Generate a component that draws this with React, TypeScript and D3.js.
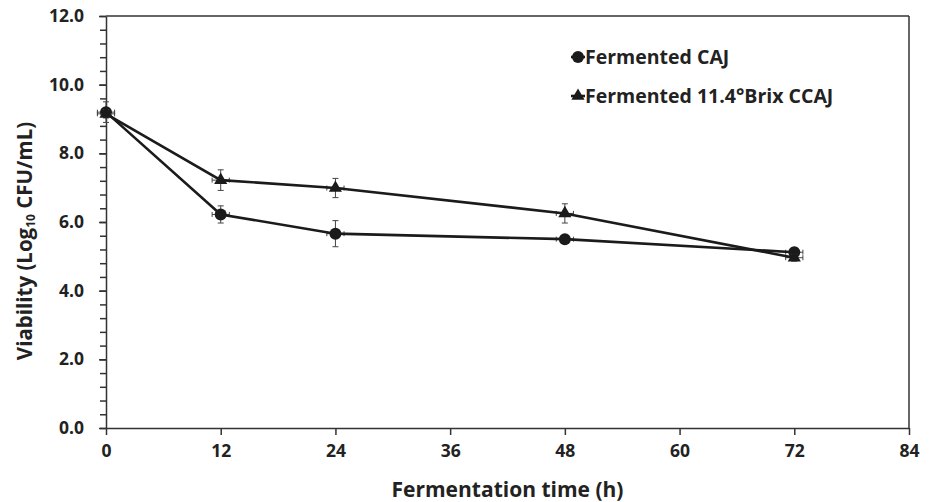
import { useRef, useEffect } from "react";
import {
  select,
  scaleLinear,
  axisLeft,
  axisBottom,
  line,
  symbol,
  symbolTriangle,
  range,
  format,
} from "d3";

// fermentation time (h)
const hours = [0, 12, 24, 48, 72];
const hourErrors = [0.9, 0.9, 0.9, 0.9, 0.9];

// Fermented CAJ
const cajValues = [9.2, 6.22, 5.66, 5.5, 5.12];
const cajErrors = [0.3, 0.25, 0.38, 0.08, 0.12];

// Fermented 11.4°Brix CCAJ
const ccajValues = [9.15, 7.22, 6.99, 6.25, 4.96];
const ccajErrors = [0.12, 0.3, 0.28, 0.28, 0.1];

const xTicks = [0, 12, 24, 36, 48, 60, 72, 84];
const yTicks = [0, 2, 4, 6, 8, 10, 12];

const width = 935;
const height = 502;
const font = "'Open Sans', Lato, sans-serif";
const ink = "#1b1b1b";

function App() {
  const svgRef = useRef(null);

  useEffect(() => {
    const svg = select(svgRef.current);
    svg.selectAll("*").remove();

    const xScale = scaleLinear().domain([0, 84]).range([106, 909]);
    const yScale = scaleLinear().domain([0, 12]).range([428, 16]);

    const chart = svg.append("g");

    // frame top + right
    chart
      .append("line")
      .attr("x1", xScale(0))
      .attr("x2", xScale(84))
      .attr("y1", yScale(12))
      .attr("y2", yScale(12))
      .attr("stroke", "#333")
      .attr("stroke-width", 1.5);
    chart
      .append("line")
      .attr("x1", xScale(84))
      .attr("x2", xScale(84))
      .attr("y1", yScale(12))
      .attr("y2", yScale(0))
      .attr("stroke", "#333")
      .attr("stroke-width", 1.5);

    // minor y ticks
    chart
      .append("g")
      .attr("transform", `translate(${xScale(0)},0)`)
      .call(
        axisLeft(yScale)
          .tickValues(range(0, 12.01, 0.4))
          .tickSize(6)
          .tickFormat(() => "")
      )
      .call((g) => g.select(".domain").remove())
      .call((g) => g.selectAll("line").attr("stroke", "#333").attr("stroke-width", 1.5));

    const yAxis = chart
      .append("g")
      .attr("transform", `translate(${xScale(0)},0)`)
      .call(
        axisLeft(yScale)
          .tickValues(yTicks)
          .tickSize(7)
          .tickSizeOuter(0)
          .tickPadding(15)
          .tickFormat(format(".1f"))
      );

    const xAxis = chart
      .append("g")
      .attr("transform", `translate(0,${yScale(0)})`)
      .call(
        axisBottom(xScale)
          .tickValues(xTicks)
          .tickSize(7)
          .tickSizeOuter(0)
          .tickPadding(10)
      );

    [xAxis, yAxis].forEach((ax) => {
      ax.select(".domain").attr("stroke", "#333").attr("stroke-width", 1.5);
      ax.selectAll("line").attr("stroke", "#333").attr("stroke-width", 1.5);
      ax.selectAll("text")
        .attr("font-family", font)
        .attr("font-weight", "bold")
        .attr("font-size", 17.5)
        .attr("fill", "#222");
    });

    // axis titles
    chart
      .append("text")
      .attr("x", (xScale(0) + xScale(84)) / 2)
      .attr("y", 497)
      .attr("text-anchor", "middle")
      .attr("font-family", font)
      .attr("font-weight", "bold")
      .attr("font-size", 21)
      .attr("fill", "#222")
      .text("Fermentation time (h)");

    const yTitle = chart
      .append("text")
      .attr("transform", "translate(32,241) rotate(-90)")
      .attr("text-anchor", "middle")
      .attr("font-family", font)
      .attr("font-weight", "bold")
      .attr("font-size", 20.5)
      .attr("fill", "#222");
    yTitle.append("tspan").text("Viability (Log");
    yTitle.append("tspan").attr("font-size", 12).attr("dy", 3).text("10");
    yTitle.append("tspan").attr("dy", -3).text(" CFU/mL)");

    const series = [
      { name: "Fermented CAJ", values: cajValues, errors: cajErrors, shape: "circle" },
      { name: "Fermented 11.4°Brix CCAJ", values: ccajValues, errors: ccajErrors, shape: "triangle" },
    ];

    const tri = symbol().type(symbolTriangle).size(75);

    const drawMarker = (g, shape, x, y) => {
      if (shape === "circle") {
        g.append("circle").attr("cx", x).attr("cy", y).attr("r", 6).attr("fill", ink);
      } else {
        g.append("path")
          .attr("d", tri())
          .attr("transform", `translate(${x},${y})`)
          .attr("fill", ink);
      }
    };

    series.forEach((s) => {
      const pts = hours.map((h, i) => ({ h, v: s.values[i], e: s.errors[i], xe: hourErrors[i] }));
      const g = chart.append("g");

      // error bars
      pts.forEach((p) => {
        const cx = xScale(p.h);
        const cy = yScale(p.v);
        const eb = g.append("g").attr("stroke", "#444").attr("stroke-width", 1);
        eb.append("line").attr("x1", cx).attr("x2", cx).attr("y1", yScale(p.v - p.e)).attr("y2", yScale(p.v + p.e));
        eb.append("line").attr("x1", cx - 3).attr("x2", cx + 3).attr("y1", yScale(p.v - p.e)).attr("y2", yScale(p.v - p.e));
        eb.append("line").attr("x1", cx - 3).attr("x2", cx + 3).attr("y1", yScale(p.v + p.e)).attr("y2", yScale(p.v + p.e));
        eb.append("line").attr("x1", xScale(p.h - p.xe)).attr("x2", xScale(p.h + p.xe)).attr("y1", cy).attr("y2", cy);
        eb.append("line").attr("x1", xScale(p.h - p.xe)).attr("x2", xScale(p.h - p.xe)).attr("y1", cy - 2.5).attr("y2", cy + 2.5);
        eb.append("line").attr("x1", xScale(p.h + p.xe)).attr("x2", xScale(p.h + p.xe)).attr("y1", cy - 2.5).attr("y2", cy + 2.5);
      });

      g.append("path")
        .datum(pts)
        .attr("fill", "none")
        .attr("stroke", ink)
        .attr("stroke-width", 2.6)
        .attr(
          "d",
          line()
            .x((d) => xScale(d.h))
            .y((d) => yScale(d.v))
        );

      pts.forEach((p) => drawMarker(g, s.shape, xScale(p.h), yScale(p.v)));
    });

    // legend
    const legend = chart.append("g");
    series.forEach((s, i) => {
      const ly = 57 + i * 39;
      legend
        .append("line")
        .attr("x1", 571)
        .attr("x2", 585)
        .attr("y1", ly)
        .attr("y2", ly)
        .attr("stroke", ink)
        .attr("stroke-width", 2.6);
      drawMarker(legend, s.shape, 578, ly);
      legend
        .append("text")
        .attr("x", 585)
        .attr("y", ly + 7)
        .attr("font-family", font)
        .attr("font-weight", "bold")
        .attr("font-size", 19.5)
        .attr("fill", "#222")
        .text(s.name);
    });
  }, []);

  return (
    <svg
      ref={svgRef}
      width={width}
      height={height}
      style={{ position: "absolute", left: 0, top: 0, background: "#fff" }}
    />
  );
}

export default App;
